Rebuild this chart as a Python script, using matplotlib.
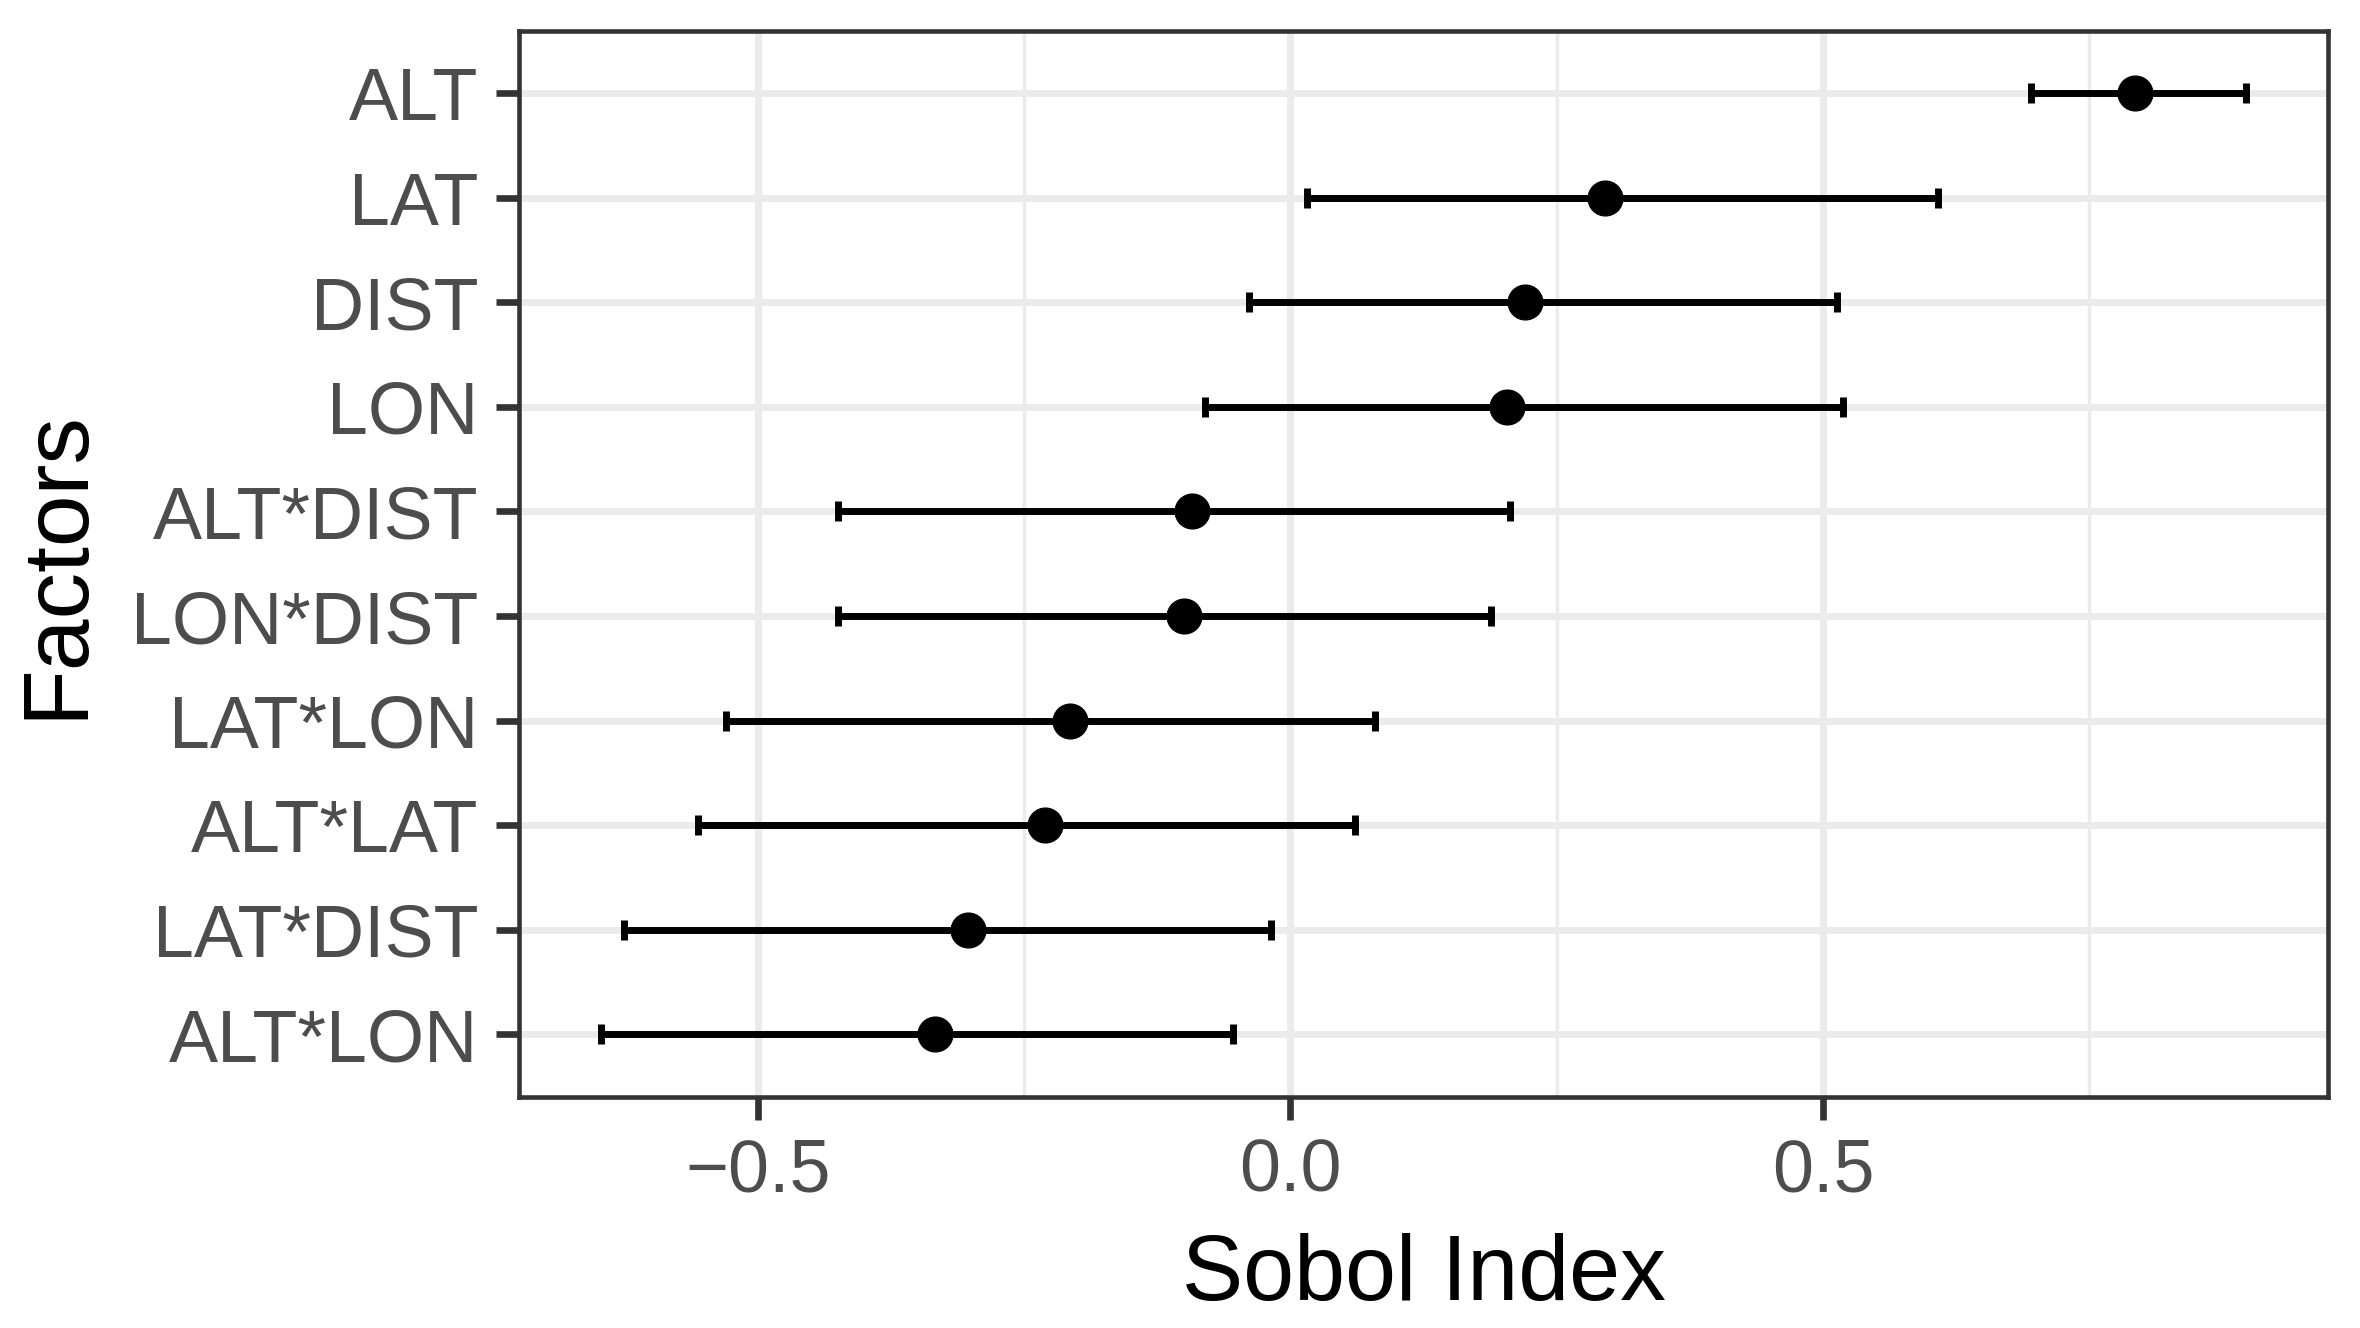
import numpy as np
import matplotlib
matplotlib.use("Agg")
import matplotlib.pyplot as plt
from matplotlib.ticker import MultipleLocator

plt.rcParams['font.family'] = ['Liberation Sans', 'DejaVu Sans']

factors = ["ALT", "LAT", "DIST", "LON", "ALT*DIST", "LON*DIST",
           "LAT*LON", "ALT*LAT", "LAT*DIST", "ALT*LON"]
sobol = [0.793, 0.295, 0.220, 0.203, -0.092, -0.100, -0.207, -0.230, -0.303, -0.334]
lower = [0.695, 0.016, -0.039, -0.080, -0.425, -0.425, -0.530, -0.556, -0.626, -0.647]
upper = [0.897, 0.608, 0.513, 0.519, 0.206, 0.188, 0.079, 0.061, -0.018, -0.054]

# bottom-to-top order like ggplot's discrete axis
ypos = np.arange(len(factors))[::-1]
sobol = np.array(sobol)
err = [sobol - np.array(lower), np.array(upper) - sobol]

fig = plt.figure(figsize=(23.6, 13.28), dpi=100)
ax = fig.add_axes([0.22, 0.174, 0.7664, 0.803])

ax.errorbar(sobol, ypos, xerr=err, fmt='none', ecolor='black',
            elinewidth=5, capsize=7.5, capthick=5, zorder=3)
ax.plot(sobol, ypos, 'o', color='black', markersize=25, zorder=4)

lo = min(lower)
hi = max(upper)
pad = (hi - lo) * 0.05
ax.set_xlim(lo - pad, hi + pad)
ax.set_ylim(-0.6, len(factors) - 0.4)

ax.set_yticks(ypos)
ax.set_yticklabels(factors)
ax.xaxis.set_minor_locator(MultipleLocator(0.25))
ax.set_xticks([-0.5, 0.0, 0.5])
ax.set_xticklabels(["\u22120.5", "0.0", "0.5"])

ax.grid(True, which='major', color='#EBEBEB', linewidth=5, zorder=0)
ax.grid(True, which='minor', axis='x', color='#EBEBEB', linewidth=2.5, zorder=0)
ax.set_axisbelow(True)
ax.tick_params(which='minor', length=0)
ax.tick_params(which='major', length=16.5, width=4.8, color='#333333',
               labelsize=53, labelcolor='#4D4D4D', pad=13)

for s in ax.spines.values():
    s.set_color('#333333')
    s.set_linewidth(3.3)

ax.set_xlabel("Sobol Index", fontsize=66, color='black', labelpad=19)
ax.set_ylabel("Factors", fontsize=67, color='black', labelpad=22)

fig.savefig("out.png", dpi=100)
